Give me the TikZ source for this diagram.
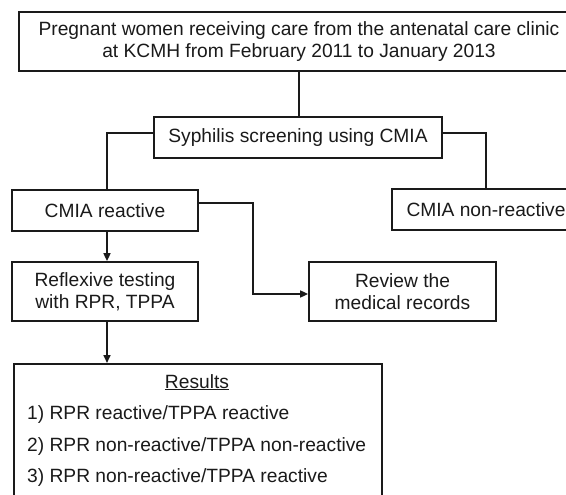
\documentclass[tikz,border=0pt]{standalone}
\usepackage{fontspec}
\setmainfont{Liberation Sans}
\usetikzlibrary{arrows.meta,calc}
\definecolor{ink}{HTML}{1A1A1A}
\begin{document}
\begin{tikzpicture}[x=1pt,y=-1pt,
  box/.style={draw=ink, line width=1.7pt, inner sep=0pt, align=center,
    text=ink, font=\fontsize{19.2}{22}\selectfont},
  txt/.style={inner sep=0pt, text=ink, font=\fontsize{19.2}{22}\selectfont},
  link/.style={draw=ink, line width=1.6pt},
  arrow/.style={link, -{Triangle[length=8pt,width=7pt]}}]
\useasboundingbox (0,0) rectangle (566,495);
\clip (0,0) rectangle (566,495);
\fill[white] (0,0) rectangle (566,495);
% boxes
\node[box, minimum width=560pt, minimum height=59pt] (top) at (299,41.5)
  {Pregnant women receiving care from the antenatal care clinic\\at KCMH from February 2011 to January 2013};
\node[box, minimum width=288pt, minimum height=41pt] (syph) at (298,137.5)
  {Syphilis screening using CMIA};
\node[box, minimum width=186pt, minimum height=41pt] (reac) at (105,210.5)
  {CMIA reactive};
\node[box, minimum width=188pt, minimum height=41pt] (nonr) at (486,209.5)
  {CMIA non-reactive};
\node[box, minimum width=186pt, minimum height=59pt] (refl) at (105,291.5)
  {Reflexive testing\\with RPR, TPPA};
\node[box, minimum width=187pt, minimum height=59pt] (rev) at (402.5,291.5)
  {Review the\\medical records};
\node[box, minimum width=368pt, minimum height=150pt, anchor=north west] (res) at (13,363) {};
\node[txt, anchor=base] (rt) at (197,388) {\underline{Results}};
\node[txt, anchor=base west] (r1) at (27,419) {1) RPR reactive/TPPA reactive};
\node[txt, anchor=base west] (r2) at (27,451) {2) RPR non-reactive/TPPA non-reactive};
\node[txt, anchor=base west] (r3) at (27,482) {3) RPR non-reactive/TPPA reactive};
\coordinate (bend) at (253,294);
% connectors
\draw[link] (top.south) -- (top.south |- syph.north);
\draw[link] ([yshift=4.5pt]syph.west) -| ([xshift=2pt]reac.north);
\draw[link] ([yshift=4.5pt]syph.east) -| (nonr.north);
\draw[arrow] ([yshift=7.5pt]reac.east) -| (bend) -- (rev.west |- bend);
\draw[arrow] ([xshift=2pt]reac.south) -- ([xshift=2pt]refl.north);
\draw[arrow] ([xshift=2pt]refl.south) -- ([xshift=2pt]refl.south |- res.north);
\end{tikzpicture}
\end{document}
